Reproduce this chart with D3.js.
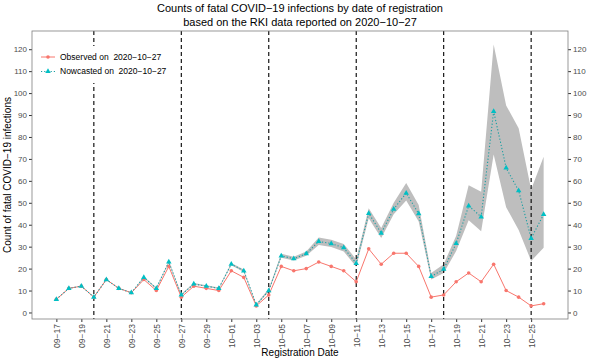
<!DOCTYPE html>
<html><head><meta charset="utf-8">
<script src="https://cdn.jsdelivr.net/npm/d3@7"></script>
<style>body{margin:0;background:#fff}svg{display:block;font-family:"Liberation Sans",Arial,sans-serif}</style>
</head><body><svg id="c" width="600" height="360"></svg>
<script>
const dates = ["09-17","09-18","09-19","09-20","09-21","09-22","09-23","09-24","09-25","09-26","09-27","09-28","09-29","09-30",
"10-01","10-02","10-03","10-04","10-05","10-06","10-07","10-08","10-09","10-10","10-11","10-12","10-13","10-14","10-15","10-16",
"10-17","10-18","10-19","10-20","10-21","10-22","10-23","10-24","10-25","10-26"];
const observed = [6,11,12,7,15,11,9,15,10,21,7,12,11,10,19,16,3,8,21,19,20,23,21,19,14,29,22,27,27,21,7,8,14,18,14,22,10,7,3,4];
const nowcast = [6,11,12,7,15,11,9,16,11,23,8,13,12,11,22,19,3.5,10,25.8,24.5,26.8,32.4,31.4,29.5,22.4,45.2,36.2,47.1,54.4,45,16.4,19.7,31.5,48.6,43.6,91.7,65.9,55.5,33.8,44.7];
const lower = [6,11,12,7,15,11,9,15.7,10.7,22.6,7.7,12.7,11.7,10.7,21.5,18.5,3.2,9.4,24.9,23.7,25.9,30.8,29.9,27.8,20.9,43,34,44.8,51,41.5,15,18,28,42,37,72,48,37.6,23.5,29.5];
const upper = [6,11,12,7,15,11,9,16.4,11.4,23.5,8.4,13.4,12.4,11.4,22.6,19.6,3.9,10.8,26.8,25.4,27.8,34.2,33.2,31.2,24.2,47.5,38.5,50,59,49,18,22,35,58,55,122.2,94.4,84,56,71];
const vlines = ["09-20","09-27","10-04","10-11","10-18","10-25"];
const xTicks = dates.filter((d,i)=>i%2===0);
const yTicks = d3.range(0,121,10);
const legendLabels = ["Observed on  2020\u221210\u221227","Nowcasted on  2020\u221210\u221227"];
const titleLines = ["Counts of fatal COVID\u221219 infections by date of registration","based on the RKI data reported on 2020\u221210\u221227"];

const red="#F8766D", teal="#00BFC4", tealLine="#1A9FA3";
const svg=d3.select("#c");
const L=32,R=568,T=31,B=319;
const x=d3.scaleLinear().domain([-1.95,dates.length-1+1.95]).range([L,R]);
const y=d3.scaleLinear().domain([-2.97,128.3]).range([B,T]);
const xi=d=>x(dates.indexOf(d));
const fmt=s=>s.replace("-","\u2212");

// title
svg.selectAll("text.title").data(titleLines).enter().append("text")
 .attr("x",300).attr("y",(d,i)=>12+i*14).attr("text-anchor","middle").attr("font-size",11).attr("fill","#000").text(d=>d);

// ribbon
const idx=d3.range(dates.length);
svg.append("path").datum(idx).attr("fill","#BEBEBE")
 .attr("d",d3.area().x(i=>x(i)).y0(i=>y(lower[i])).y1(i=>y(upper[i])));

// vertical dashed lines
svg.selectAll("line.v").data(vlines).enter().append("line")
 .attr("x1",xi).attr("x2",xi).attr("y1",T).attr("y2",B)
 .attr("stroke","#000").attr("stroke-width",1.1).attr("stroke-dasharray","4,3");

// observed
svg.append("path").datum(idx).attr("fill","none").attr("stroke",red).attr("stroke-width",1)
 .attr("d",d3.line().x(i=>x(i)).y(i=>y(observed[i])));
svg.selectAll("circle.o").data(idx).enter().append("circle")
 .attr("cx",i=>x(i)).attr("cy",i=>y(observed[i])).attr("r",1.8).attr("fill",red);
// nowcast
svg.append("path").datum(idx).attr("fill","none").attr("stroke",tealLine).attr("stroke-width",1.1).attr("stroke-dasharray","1.2,2")
 .attr("d",d3.line().x(i=>x(i)).y(i=>y(nowcast[i])));
const tri=d3.symbol().type(d3.symbolTriangle).size(13);
svg.selectAll("path.n").data(idx).enter().append("path")
 .attr("d",tri).attr("transform",i=>`translate(${x(i)},${y(nowcast[i])})`).attr("fill",teal);

// axes
const axL=svg.append("g").attr("transform",`translate(${L},0)`).call(d3.axisLeft(y).tickValues(yTicks).tickSize(3).tickPadding(2));
const axR=svg.append("g").attr("transform",`translate(${R},0)`).call(d3.axisRight(y).tickValues(yTicks).tickSize(3).tickPadding(2));
const axB=svg.append("g").attr("transform",`translate(0,${B})`).call(d3.axisBottom(x).tickValues(xTicks.map(d=>dates.indexOf(d))).tickFormat(i=>fmt(dates[i])).tickSize(3));
[axL,axR,axB].forEach(a=>{a.select(".domain").remove();a.selectAll("line").attr("stroke","#333");a.selectAll("text").attr("fill","#4D4D4D").attr("font-size",8).attr("font-family","'Liberation Sans',Arial,sans-serif");});
axB.selectAll("text").attr("font-size",8.5).attr("transform","rotate(-90)").attr("text-anchor","end").attr("x",-5).attr("y",0).attr("dy","0.35em");

// panel border
svg.append("rect").attr("x",L).attr("y",T).attr("width",R-L).attr("height",B-T).attr("fill","none").attr("stroke","#7F7F7F").attr("stroke-width",0.8);

// legend
const lg=svg.append("g");
lg.append("rect").attr("x",38).attr("y",46).attr("width",124).attr("height",37).attr("fill","#fff");
legendLabels.forEach((t,i)=>{
 const yy=57+i*14.5;
 const g=lg.append("g");
 g.append("line").attr("x1",41).attr("x2",55).attr("y1",yy).attr("y2",yy).attr("stroke",i?tealLine:red).attr("stroke-width",1).attr("stroke-dasharray",i?"1.2,2":null);
 if(i) g.append("path").attr("d",tri).attr("transform",`translate(48,${yy})`).attr("fill",teal);
 else g.append("circle").attr("cx",48).attr("cy",yy).attr("r",1.8).attr("fill",red);
 g.append("text").attr("x",60).attr("y",yy).attr("dy","0.35em").attr("font-size",8.5).attr("fill","#000").style("white-space","pre").text(t);
});

// axis titles
svg.append("text").attr("x",300).attr("y",356).attr("text-anchor","middle").attr("font-size",10).text("Registration Date");
svg.append("text").attr("transform",`translate(11,${(T+B)/2}) rotate(-90)`).attr("text-anchor","middle").attr("font-size",10).text("Count of fatal COVID\u221219 infections");
</script></body></html>
